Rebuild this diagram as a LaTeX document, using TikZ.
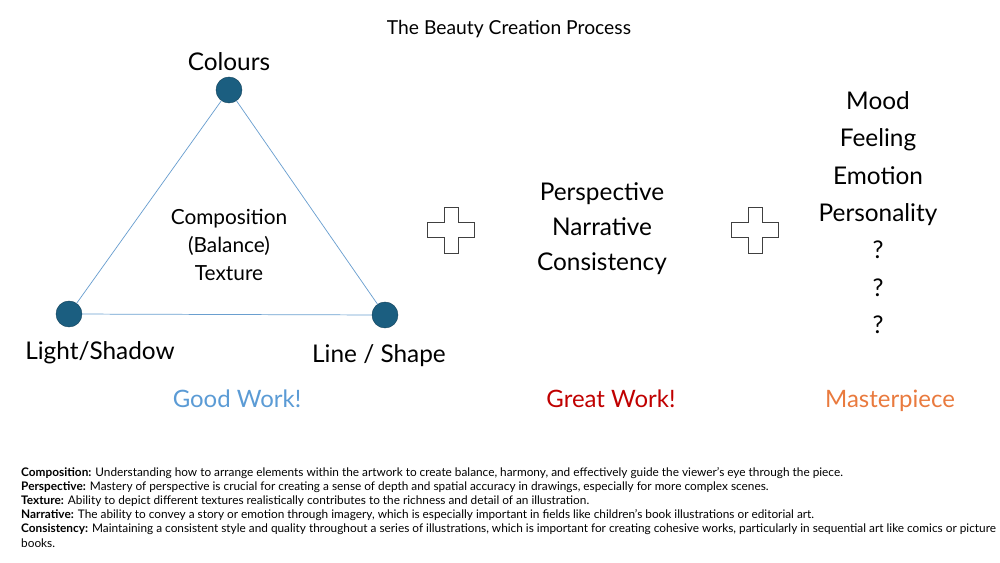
\documentclass[tikz,border=0pt]{standalone}
\usepackage{fontspec}
\setmainfont{Lato}
\definecolor{dotblue}{HTML}{1B5E80}
\definecolor{edgeblue}{HTML}{6A9FCF}
\definecolor{goodblue}{HTML}{5B9BD5}
\definecolor{greatred}{HTML}{C00000}
\definecolor{masterorange}{HTML}{E97A3E}
\definecolor{plusgray}{HTML}{404040}
\tikzset{
  dot/.style={circle, fill=dotblue, draw=dotblue!70!black, minimum width=24pt, minimum height=25pt, inner sep=0pt},
  edge/.style={draw=edgeblue, line width=0.7pt},
  biglabel/.style={font=\fontsize{23.4}{28}\selectfont, text height=21pt, text depth=2pt},
  midlabel/.style={font=\fontsize{20}{27}\selectfont},
  verdict/.style={font=\fontsize{23}{27}\selectfont, text height=21pt, text depth=2pt}
}
\begin{document}
\begin{tikzpicture}[x=0.96pt, y=-0.96pt]
    % cadre de la page
    \useasboundingbox (0,0) rectangle (1000,562);

    \node[font=\fontsize{18.5}{22}\selectfont] (title) at (509,29) {The Beauty Creation Process};

    % triangle
    \node[dot] (colours) at (229,90) {};
    \node[dot] (light) at (69,314) {};
    \node[dot] (line) at (385,315) {};
    \draw[edge] (colours) -- (line) -- (light) -- (colours);

    \node[biglabel] (lcolours) at (229,61) {Colours};
    \node[biglabel] (llight) at (100,350) {Light/Shadow};
    \node[biglabel] (lline) at (379,353) {Line / Shape};

    \node[midlabel, align=center] (inner) at (229,245) {Composition\\(Balance)\\Texture};

    % les deux croix
    \foreach \cx in {451,755}{
    \draw[plusgray, line width=0.9pt] (\cx-7,207) -- (\cx+7,207) -- (\cx+7,222.5) -- (\cx+23.5,222.5) -- (\cx+23.5,237.5) -- (\cx+7,237.5) -- (\cx+7,253) -- (\cx-7,253) -- (\cx-7,237.5) -- (\cx-23.5,237.5) -- (\cx-23.5,222.5) -- (\cx-7,222.5) -- cycle;
    }

    % colonne du milieu
    \node[biglabel] (persp) at (602,191) {Perspective};
    \node[biglabel] (narr) at (602,226) {Narrative};
    \node[biglabel] (consist) at (602,261) {Consistency};

    % colonne de droite
    \node[biglabel] (mood) at (878,100) {Mood};
    \node[biglabel] (feeling) at (878,137) {Feeling};
    \node[biglabel] (emotion) at (878,175) {Emotion};
    \node[biglabel] (personality) at (878,212) {Personality};
    \node[biglabel] (q1) at (878,249) {?};
    \node[biglabel] (q2) at (878,287) {?};
    \node[biglabel] (q3) at (878,324) {?};

    \node[verdict, text=goodblue] (good) at (237,398) {Good Work!};
    \node[verdict, text=greatred] (great) at (611,398) {Great Work!};
    \node[verdict, text=masterorange] (master) at (890,398) {Masterpiece};

    % definitions en bas
    \node[anchor=north west, align=left, inner sep=0pt, font=\fontsize{11.35}{13.6}\selectfont] (defs) at (21,467) {%
\textbf{Composition:} Understanding how to arrange elements within the artwork to create balance, harmony, and effectively guide the viewer's eye through the piece.\\
\textbf{Perspective:} Mastery of perspective is crucial for creating a sense of depth and spatial accuracy in drawings, especially for more complex scenes.\\
\textbf{Texture:} Ability to depict different textures realistically contributes to the richness and detail of an illustration.\\
\textbf{Narrative:} The ability to convey a story or emotion through imagery, which is especially important in fields like children's book illustrations or editorial art.\\
\textbf{Consistency:} Maintaining a consistent style and quality throughout a series of illustrations, which is important for creating cohesive works, particularly in sequential art like comics or picture\\
books.};
\end{tikzpicture}
\end{document}
